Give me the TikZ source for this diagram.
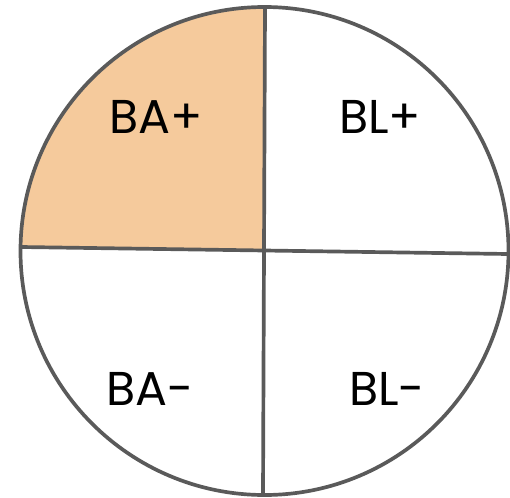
\documentclass[tikz,border=0pt]{standalone}
\usepackage{fontspec}
\setmainfont{Poppins}
\definecolor{quadfill}{HTML}{F5CA9C}
\definecolor{rim}{HTML}{5A5A5A}

\begin{document}
\begin{tikzpicture}[x=0.02cm,y=-0.02cm,
    rimline/.style={rim,line width=2.1pt},
    lbl/.style={anchor=base,inner sep=0pt,font=\fontsize{27}{32}\selectfont}]
  \useasboundingbox (0,0) rectangle (510,497);
  % circle and quarter fill
  \coordinate (mid) at (264.5,251);
  \begin{scope}
    \clip (mid) circle (244);
    \fill[quadfill] (265,250) -- (265,0) -- (0,0) -- (0,247) -- cycle;
  \end{scope}
  \draw[rimline] (mid) circle (244);
  % dividing lines
  \coordinate (top) at (265,7);
  \coordinate (bot) at (263,495);
  \coordinate (lft) at (21,247);
  \coordinate (rgt) at (508,254);
  \draw[rimline] (top) -- (bot);
  \draw[rimline] (lft) -- (rgt);
  % labels
  \node[lbl] (baplus) at (156,133) {BA+};
  \node[lbl] (blplus) at (380,133) {BL+};
  \node[lbl] (baminus) at (150,405) {BA-};
  \node[lbl] (blminus) at (387,405) {BL-};
\end{tikzpicture}
\end{document}
